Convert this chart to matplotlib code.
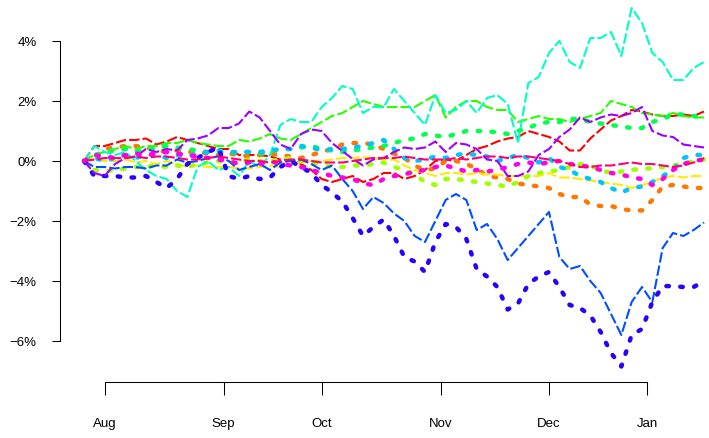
import matplotlib
matplotlib.use("Agg")
import matplotlib.pyplot as plt
import matplotlib.colors as mcolors
import numpy as np

plt.rcParams['font.family'] = ['Liberation Sans', 'DejaVu Sans']
plt.rcParams['lines.scale_dashes'] = False

# trading-day index (26 Jul 2018 = 0), one value every 2 trading days, in %
days = np.arange(0, 121, 2)
month_pos = [4, 27, 46, 69, 90, 109]
month_labels = ["Aug", "Sep", "Oct", "Nov", "Dec", "Jan"]
y_ticks = [-6, -4, -2, 0, 2, 4]

s01 = [0, 0.5, 0.5, 0.6, 0.7, 0.7, 0.75, 0.55, 0.65, 0.8,
       0.7, 0.6, 0.5, 0.4, 0.4, 0.2, 0.2, 0.2, 0.15, 0.05,
       0.05, -0.1, -0.3, -0.6, -0.7, -0.6, -0.5, -0.7, -0.6, -0.4,
       -0.4, -0.6, -0.5, -0.3, 0.0, 0.05, 0.0, 0.2, 0.4, 0.5,
       0.65, 0.75, 0.8, 1.0, 0.9, 0.8, 0.65, 0.35, 0.35, 0.75,
       1.05, 1.35, 1.5, 1.7, 1.65, 1.55, 1.5, 1.5, 1.55, 1.5,
       1.65]
s02 = [0, 0.1, 0.4, 0.45, 0.5, 0.5, 0.45, 0.35, 0.3, 0.35,
       0.3, 0.3, 0.25, 0.2, 0.25, 0.2, 0.15, 0.2, 0.25, 0.2,
       0.15, 0.1, 0.2, 0.3, 0.4, 0.55, 0.6, 0.6, 0.55, 0.4,
       0.25, 0.1, -0.15, -0.3, -0.25, 0.0, 0.0, -0.1, -0.25, -0.5,
       -0.55, -0.6, -0.75, -0.8, -0.85, -0.9, -1.1, -1.2, -1.2, -1.45,
       -1.5, -1.5, -1.6, -1.65, -1.65, -1.3, -0.85, -0.8, -0.85, -0.9,
       -0.9]
s03 = [0, 0.05, 0.0, 0.0, 0.05, -0.05, 0.0, -0.1, 0.0, -0.1,
       -0.2, -0.15, -0.2, -0.2, -0.2, -0.25, -0.25, -0.2, -0.15, -0.2,
       -0.1, -0.05, 0.0, 0.0, 0.05, 0.1, 0.1, 0.13, 0.1, 0.05,
       0.05, -0.15, -0.3, -0.4, -0.5, -0.4, -0.4, -0.45, -0.4, -0.45,
       -0.45, -0.5, -0.5, -0.5, -0.5, -0.4, -0.55, -0.55, -0.6, -0.65,
       -0.7, -0.75, -0.8, -0.9, -0.8, -0.7, -0.55, -0.5, -0.55, -0.5,
       -0.5]
s04 = [0, -0.3, -0.35, -0.3, -0.25, -0.2, -0.2, -0.15, -0.2, -0.15,
       -0.2, -0.1, -0.05, 0.0, -0.05, 0.0, 0.05, 0.0, 0.0, 0.05,
       0.1, 0.0, -0.05, -0.1, -0.2, -0.2, -0.15, -0.15, -0.1, -0.05,
       -0.2, -0.3, -0.45, -0.7, -0.8, -0.6, -0.6, -0.65, -0.7, -0.75,
       -0.8, -0.85, -0.7, -0.5, -0.4, -0.35, -0.3, -0.2, -0.1, -0.15,
       -0.3, -0.4, -0.35, -0.3, -0.25, -0.25, -0.2, -0.15, -0.1, 0.0,
       0.05]
s05 = [0, 0.2, 0.3, 0.4, 0.5, 0.4, 0.5, 0.5, 0.6, 0.6,
       0.7, 0.6, 0.55, 0.5, 0.5, 0.7, 0.65, 0.75, 0.9, 0.75,
       0.7, 0.9, 1.1, 1.3, 1.5, 1.6, 1.8, 2.0, 1.9, 1.8,
       1.8, 1.8, 1.8, 2.0, 2.2, 1.45, 1.8, 2.0, 2.0, 1.8,
       1.7, 1.7, 1.3, 1.4, 1.5, 1.4, 1.4, 1.3, 1.4, 1.5,
       1.6, 2.0, 1.9, 1.8, 1.6, 1.55, 1.5, 1.6, 1.5, 1.45,
       1.45]
s06 = [0, 0.2, 0.3, 0.35, 0.4, 0.3, 0.4, 0.4, 0.5, 0.45,
       0.4, 0.35, 0.3, 0.3, 0.25, 0.3, 0.3, 0.25, 0.3, 0.4,
       0.4, 0.45, 0.5, 0.4, 0.35, 0.3, 0.35, 0.4, 0.45, 0.5,
       0.6, 0.7, 0.75, 0.9, 0.85, 0.8, 0.9, 1.0, 1.0, 1.0,
       0.95, 0.9, 1.0, 1.1, 1.25, 1.3, 1.3, 1.4, 1.4, 1.3,
       1.25, 1.2, 1.15, 1.1, 1.1, 1.3, 1.4, 1.55, 1.55, 1.5,
       1.45]
s07 = [0, 0.5, 0.3, 0.2, 0.3, 0.0, -0.3, -0.5, -0.6, -1.0,
       -1.2, -0.2, 0.0, -0.3, -0.2, -0.5, 0.0, -0.2, 0.2, 1.2,
       1.4, 1.3, 1.3, 1.8, 2.1, 2.5, 2.4, 1.6, 1.8, 1.8,
       2.4, 2.0, 1.6, 1.2, 2.2, 1.6, 1.7, 2.0, 1.6, 2.1,
       2.2, 1.9, 0.6, 2.6, 2.8, 3.6, 4.0, 3.3, 3.1, 4.1,
       4.1, 4.3, 3.5, 5.1, 4.6, 3.6, 3.3, 2.7, 2.7, 3.1,
       3.3]
s08 = [0, 0.1, 0.0, 0.1, 0.2, 0.1, 0.2, 0.2, 0.1, 0.2,
       0.15, 0.25, 0.3, 0.35, 0.3, 0.3, 0.3, 0.3, 0.35, 0.4,
       0.4, 0.5, 0.45, 0.35, 0.4, 0.4, 0.45, 0.5, 0.6, 0.7,
       0.4, 0.1, 0.0, 0.05, 0.15, 0.1, 0.2, 0.25, 0.2, 0.15,
       0.0, 0.1, 0.2, 0.1, -0.05, 0.1, -0.2, -0.3, -0.5, -0.6,
       -0.7, -0.9, -1.05, -0.9, -0.85, -0.7, -0.5, -0.3, 0.1, 0.2,
       0.2]
s09 = [0, -0.2, -0.2, -0.25, -0.2, -0.2, -0.25, -0.15, -0.15, 0.05,
       -0.05, 0.0, 0.1, 0.15, 0.0, -0.3, -0.2, -0.1, -0.3, -0.05,
       0.0, 0.05, -0.1, -0.3, -0.15, -0.6, -1.0, -1.6, -1.2, -1.4,
       -1.75, -2.0, -2.5, -2.7, -2.0, -1.3, -1.1, -1.3, -2.3, -2.1,
       -2.6, -3.3, -2.9, -2.5, -2.1, -1.7, -3.2, -3.6, -3.5, -4.0,
       -4.4, -5.1, -5.8, -4.7, -4.2, -4.7, -2.9, -2.4, -2.5, -2.3,
       -2.05]
s10 = [0, -0.5, -0.5, -0.5, -0.55, -0.55, -0.5, -0.7, -0.9, -0.6,
       -0.1, 0.1, 0.3, 0.45, -0.5, -0.6, -0.5, -0.6, -0.55, -0.2,
       0.0, -0.2, -0.4, -0.8, -1.05, -1.35, -1.9, -2.5, -2.2, -1.95,
       -2.5, -3.2, -3.35, -3.7, -2.7, -2.1, -2.2, -2.6, -3.6, -3.85,
       -4.2, -4.95, -4.75, -4.1, -3.85, -3.7, -4.2, -4.8, -4.9, -5.15,
       -5.7, -6.4, -6.85, -5.8, -5.6, -4.7, -4.17, -4.17, -4.2, -4.2,
       -4.0]
s11 = [0, -0.4, -0.5, -0.1, 0.1, 0.15, 0.4, 0.3, 0.4, 0.35,
       0.7, 0.75, 0.85, 1.1, 1.1, 1.25, 1.65, 1.45, 1.0, 0.55,
       0.4, 0.9, 1.05, 1.0, 0.6, 0.33, 0.07, -0.15, 0.05, 0.1,
       0.3, 0.45, 0.4, 0.45, 0.65, 0.3, 0.6, 0.55, 0.4, 0.05,
       0.0, -0.5, -0.5, -0.35, 0.2, 0.4, 0.8, 1.05, 1.45, 1.3,
       1.45, 1.55, 1.5, 1.6, 1.8, 1.0, 0.85, 0.8, 0.55, 0.5,
       0.45]
s12 = [0, 0.2, 0.15, 0.1, 0.2, 0.25, 0.2, 0.25, 0.3, 0.25,
       0.2, 0.15, 0.1, 0.05, 0.0, -0.1, -0.05, -0.1, 0.0, -0.1,
       -0.15, -0.2, -0.3, -0.4, -0.5, -0.55, -0.6, -0.75, -0.8, -0.6,
       -0.5, -0.45, -0.35, -0.3, -0.2, -0.15, -0.25, -0.35, -0.3, -0.35,
       -0.3, -0.2, -0.1, -0.05, -0.1, -0.05, 0.0, -0.1, -0.15, -0.2,
       -0.3, -0.4, -0.45, -0.55, -0.6, -0.8, -0.6, -0.3, -0.1, 0.0,
       0.05]
s13 = [0, 0.05, 0.1, 0.1, 0.1, 0.15, 0.1, 0.15, 0.15, 0.1,
       0.05, 0.05, 0.1, 0.15, 0.1, 0.05, 0.0, 0.0, -0.05, 0.0,
       0.05, 0.05, 0.0, -0.05, -0.05, -0.05, 0.0, 0.05, 0.1, 0.1,
       0.1, 0.15, 0.1, 0.05, 0.05, 0.05, 0.1, 0.05, 0.1, 0.15,
       0.15, 0.1, 0.15, 0.15, 0.1, 0.05, 0.0, -0.1, -0.2, -0.2,
       -0.15, -0.15, -0.1, -0.05, -0.1, -0.1, -0.15, -0.2, -0.15, -0.05,
       0.1]

series = [s01, s02, s03, s04, s05, s06, s07, s08, s09, s10, s11, s12, s13]

W, H = 709, 439
fig = plt.figure(figsize=(W / 100, H / 100), dpi=100)
# axes: left edge = y axis line (x=60px), bottom edge = x axis line (y=383px)
ax = fig.add_axes([60 / W, (H - 383) / H, (W - 60) / W, 383 / H])

n = len(series)
for i, s in enumerate(series):
    col = mcolors.hsv_to_rgb((i / n, 1, 1))  # like R rainbow(13)
    if i % 2 == 0:
        ax.plot(days, s, color=col, lw=1.5, dashes=(7.5, 2.2))
    else:
        ax.plot(days, s, color=col, lw=3.2, dashes=(1.8, 8.2),
                dash_capstyle='round')

px = 620 / 120  # pixels per trading day
ax.set_xlim(-24 / px, 120 + 5 / px)
ax.set_ylim((162 - 383) / 30, 162 / 30)

for side in ['top', 'right']:
    ax.spines[side].set_visible(False)
ax.spines['left'].set_bounds(-6, 4)
ax.spines['bottom'].set_bounds(month_pos[0], month_pos[-1])
for side in ['left', 'bottom']:
    ax.spines[side].set_linewidth(0.75)

ax.set_yticks(y_ticks)
ax.set_yticklabels([f"{v}%".replace("-", "\u2212") for v in y_ticks])
ax.set_xticks(month_pos)
ax.set_xticklabels(month_labels)
ax.tick_params(axis='y', length=5.8, width=0.75, pad=11, labelsize=9.5)
ax.tick_params(axis='x', length=9, width=0.75, pad=16, labelsize=9.5)

fig.savefig("out.png", dpi=100)
